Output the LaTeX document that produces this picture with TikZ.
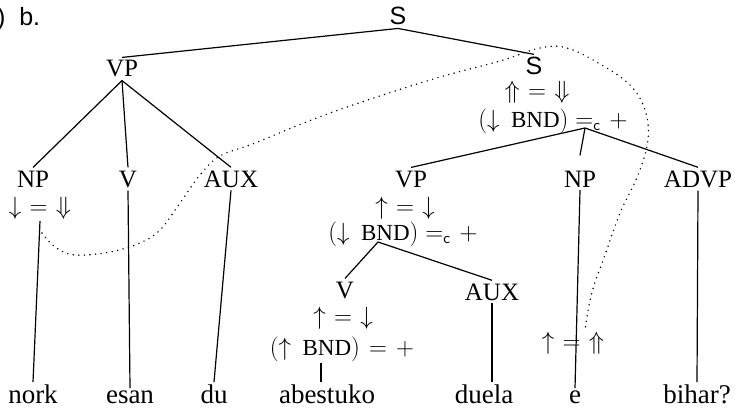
\documentclass[tikz,border=0pt]{standalone}
\usepackage{fontspec}
\setmainfont{Liberation Serif}
\newfontfamily\labelsans{Liberation Sans}
\newcommand\arrline[1]{$#1$}

\begin{document}
\begin{tikzpicture}[x=1pt, y=-1pt,
  font=\fontsize{25}{30}\selectfont,
  cat/.style={anchor=base, inner sep=3pt},
  ann/.style={anchor=base, inner sep=2pt, font=\fontsize{23}{27}\selectfont},
  arw/.style={anchor=base, inner sep=2pt, font=\fontsize{24}{28}\selectfont},
  word/.style={anchor=base, inner sep=2pt, font=\fontsize{27}{32}\selectfont},
  branch/.style={line width=1.2pt},
  trace/.style={line width=1.6pt, dash pattern=on 0pt off 5.6pt, line cap=round}]
  \useasboundingbox (0,0) rectangle (735,409);
  \node[anchor=base west, inner sep=0pt] (tag) at (-3,26) {\labelsans )\hspace{0.55em}b.};
  \node[cat] (s) at (398,25) {\labelsans S};
  \node[cat] (vp) at (122,77) {VP};
  \node[cat] (np) at (33,187) {NP};
  \node[cat] (v) at (128,187) {V};
  \node[cat] (aux) at (231,187) {AUX};
  \node[arw] (npa) at (40,214) {\arrline{\downarrow\mskip6mu=\mskip6mu\Downarrow}};
  \node[cat] (s2) at (534,75) {\labelsans S};
  \node[arw] (s2a) at (537,99) {\arrline{\Uparrow\mskip6mu=\mskip6mu\Downarrow}};
  \node[ann] (s2b) at (553,127) {$(\downarrow$\hspace{0.5em}BND$)$\hspace{0.3em}$=_{\mathsf{c}}$\hspace{0.4em}$+$};
  \node[cat] (vp2) at (411,187) {VP};
  \node[cat] (np2) at (580,187) {NP};
  \node[cat] (advp) at (698,187) {ADVP};
  \node[arw] (vp2a) at (405,214) {\arrline{\uparrow\mskip6mu=\mskip6mu\downarrow}};
  \node[ann] (vp2b) at (403,240) {$(\downarrow$\hspace{0.5em}BND$)$\hspace{0.3em}$=_{\mathsf{c}}$\hspace{0.4em}$+$};
  \node[cat] (v2) at (345,298) {V};
  \node[cat] (aux2) at (492,300) {AUX};
  \node[arw] (v2a) at (343,324) {\arrline{\uparrow\mskip6mu=\mskip6mu\downarrow}};
  \node[ann] (v2b) at (342,355) {$(\uparrow$\hspace{0.5em}BND$)$\hspace{0.4em}$=$\hspace{0.4em}$+$};
  \node[word] (nork) at (33,403) {nork};
  \node[word] (esan) at (130,403) {esan};
  \node[word] (du) at (214,403) {du};
  \node[word] (abestuko) at (327,403) {abestuko};
  \node[word] (duela) at (484,403) {duela};
  \node[word] (e) at (575,403) {e};
  \node[word] (bihar) at (697,403) {bihar?};
  \node[arw] (ea) at (573,349) {\arrline{\uparrow\mskip6mu=\mskip6mu\Uparrow}};
  \coordinate (s2br) at (585,128);
  \coordinate (vp2br) at (378,242);
  \coordinate (trs) at (42,233);
  \draw[branch] (s.south) -- (vp.north);
  \draw[branch] (s.south) -- (s2.north);
  \draw[branch] (vp.south) -- (np.north);
  \draw[branch] (vp.south) -- (v.north);
  \draw[branch] (vp.south) -- (aux.north);
  \draw[branch] (npa.south) -- (nork.north);
  \draw[branch] (v.south) -- (esan.north);
  \draw[branch] (aux.south) -- (du.north);
  \draw[branch] (s2br) -- (vp2.north);
  \draw[branch] (s2br) -- ([yshift=12pt]np2.north);
  \draw[branch] (s2br) -- (advp.north);
  \draw[branch] (np2.south) -- (e.north);
  \draw[branch] (advp.south) -- (bihar.north);
  \draw[branch] (vp2br) -- (v2.north);
  \draw[branch] (vp2br) -- (aux2.north);
  \draw[branch] ([xshift=-6pt]abestuko.north |- v2b.south) -- ([xshift=-6pt]abestuko.north);
  \draw[branch] (aux2.south) -- (aux2.south |- duela.north);
  \draw[trace] plot[smooth, tension=0.6] coordinates {(trs) (55,247) (75,255) (110,252)
    (140,243) (160,230) (180,203) (200,175) (220,156) (255,143) (330,113) (430,80)
    (500,61) (540,48) (567,48) (600,64) (630,85) (645,110) (648,140) (638,175)
    (620,213) (605,255) (592,292) ([xshift=12pt]ea.north)};
\end{tikzpicture}
\end{document}
